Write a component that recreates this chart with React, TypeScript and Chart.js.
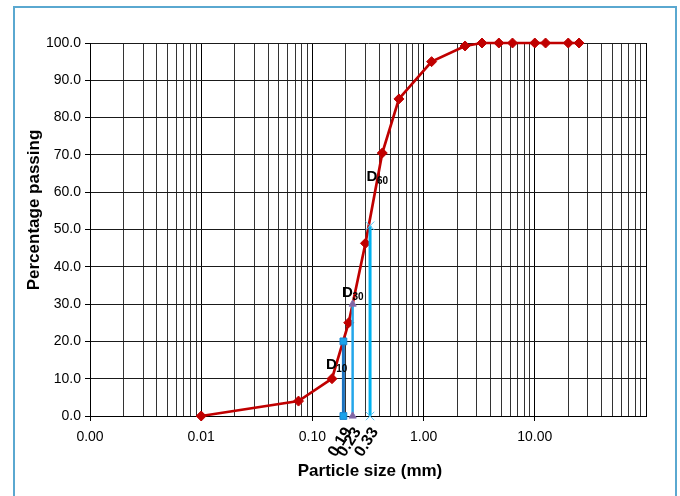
import React, { useEffect, useRef } from 'react';
import { Chart, registerables } from 'chart.js';

Chart.register(...registerables);

// ---- data ----
const sieveSizes = [0.01, 0.075, 0.15, 0.212, 0.3, 0.425, 0.6, 1.18, 2.36, 3.35, 4.75, 6.3, 10, 12.5, 20, 25];
const percentPassing = [0, 4, 10, 25, 46.3, 70.5, 85, 95, 99.2, 100, 100, 100, 100, 100, 100, 100];

const d10Size = 0.19;
const d10Line = [0, 20];
const d30Size = 0.23;
const d30Line = [0, 30];
const d60Size = 0.33;
const d60Line = [0, 51];

const dNames = ['10', '30', '60'];
const dSizeLabels = ['0.19', '0.23', '0.33'];

const xMajorTicks = [0.001, 0.01, 0.1, 1, 10, 100];
const xTickLabels = ['0.00', '0.01', '0.10', '1.00', '10.00', ''];
const xMinorMultipliers = [2, 3, 4, 5, 6, 7, 8, 9];
const yMin = 0;
const yMax = 100;
const yStep = 10;

const FONT = '"Liberation Sans", Arial, sans-serif';

function majorIndex(v: number): number {
  return xMajorTicks.findIndex((m) => Math.abs(m - v) / m < 1e-6);
}

export default function App() {
  const canvasRef = useRef<HTMLCanvasElement | null>(null);

  useEffect(() => {
    const canvas = canvasRef.current;
    if (!canvas) return;

    const allTicks: number[] = [];
    for (let i = 0; i < xMajorTicks.length; i++) {
      allTicks.push(xMajorTicks[i]);
      if (i < xMajorTicks.length - 1) {
        for (const m of xMinorMultipliers) allTicks.push(+(m * xMajorTicks[i]).toPrecision(6));
      }
    }

    const annotate = {
      id: 'annotate',
      afterDraw(chart: any) {
        const ctx = chart.ctx;
        const xs = chart.scales.x;
        const ys = chart.scales.y;
        const area = chart.chartArea;
        ctx.save();
        ctx.fillStyle = '#000';

        // axis titles
        ctx.font = `bold 17px ${FONT}`;
        ctx.textAlign = 'center';
        ctx.textBaseline = 'alphabetic';
        ctx.fillText('Particle size (mm)', (area.left + area.right) / 2 + 2, 476);
        ctx.save();
        ctx.translate(39, 210);
        ctx.rotate(-Math.PI / 2);
        ctx.fillText('Percentage passing', 0, 0);
        ctx.restore();

        // rotated D-size labels under the axis
        const sizes = [d10Size, d30Size, d60Size];
        ctx.font = `bold 16px ${FONT}`;
        ctx.textAlign = 'right';
        ctx.textBaseline = 'middle';
        sizes.forEach((s, i) => {
          const px = xs.getPixelForValue(s);
          ctx.save();
          ctx.translate(px + 5, area.bottom + 13);
          ctx.rotate((-58 * Math.PI) / 180);
          ctx.fillText(dSizeLabels[i], 0, 0);
          ctx.restore();
        });

        // D labels
        const anchors = [
          { s: d10Size, v: 12.5, dx: -17.5 },
          { s: d30Size, v: 32, dx: -10.5 },
          { s: d60Size, v: 63, dx: -3.5 },
        ];
        ctx.textAlign = 'left';
        ctx.textBaseline = 'alphabetic';
        anchors.forEach((a, i) => {
          const x = xs.getPixelForValue(a.s) + a.dx;
          const y = ys.getPixelForValue(a.v);
          ctx.font = `bold 15px ${FONT}`;
          ctx.fillText('D', x, y);
          const w = ctx.measureText('D').width;
          ctx.font = `bold 10px ${FONT}`;
          ctx.fillText(dNames[i], x + w - 0.5, y + 3);
        });
        ctx.restore();
      },
    };

    const chart = new Chart(canvas, {
      type: 'line',
      data: {
        datasets: [
          {
            label: 'D10',
            data: d10Line.map((v) => ({ x: d10Size, y: v })),
            borderColor: '#1C72BE',
            borderWidth: 3,
            pointStyle: 'rect',
            pointRadius: 4.8,
            pointBackgroundColor: '#19A2EA',
            pointBorderColor: '#1A86D0',
            pointBorderWidth: 1,
            clip: false,
          },
          {
            label: 'D30',
            data: d30Line.map((v) => ({ x: d30Size, y: v })),
            borderColor: '#24A6EA',
            borderWidth: 2.5,
            pointStyle: 'triangle',
            pointRadius: 4.2,
            pointBackgroundColor: '#8064A2',
            pointBorderColor: '#8A70B0',
            pointBorderWidth: 1,
            clip: false,
          },
          {
            label: 'D60',
            data: d60Line.map((v) => ({ x: d60Size, y: v })),
            borderColor: '#00B2F0',
            borderWidth: 3,
            pointStyle: 'crossRot',
            pointRadius: 6,
            pointBorderColor: '#55C4F2',
            pointBorderWidth: 1,
            clip: false,
          },
          {
            label: 'Grading',
            data: sieveSizes.map((s, i) => ({ x: s, y: percentPassing[i] })),
            borderColor: '#C00000',
            borderWidth: 2.7,
            pointStyle: 'rectRot',
            pointRadius: 5,
            pointBackgroundColor: '#C00000',
            pointBorderColor: '#C00000',
            pointBorderWidth: 1,
            tension: 0,
            clip: false,
          },
        ],
      },
      options: {
        responsive: false,
        animation: false,
        events: [],
        layout: { padding: { left: 0, top: 43, right: 34, bottom: 0 } },
        plugins: {
          legend: { display: false },
          tooltip: { enabled: false },
          title: { display: false },
        },
        scales: {
          x: {
            type: 'logarithmic',
            min: 0.001,
            max: 100,
            afterBuildTicks: (scale: any) => {
              scale.ticks = allTicks.map((v) => ({ value: v, major: majorIndex(v) >= 0 }));
            },
            afterFit: (scale: any) => {
              scale.height = 80;
            },
            ticks: {
              autoSkip: false,
              maxRotation: 0,
              minRotation: 0,
              padding: 8,
              color: '#000',
              font: { family: FONT, size: 14 },
              major: { enabled: false },
              callback: (v: any) => {
                const i = majorIndex(Number(v));
                return i >= 0 ? xTickLabels[i] : '';
              },
            },
            grid: {
              color: (c: any) => (c.tick && majorIndex(c.tick.value) >= 0 ? '#000' : '#333'),
              lineWidth: 1,
              tickLength: 5,
              tickColor: (c: any) => {
                if (!c.tick) return 'rgba(0,0,0,0)';
                const i = majorIndex(c.tick.value);
                return i >= 0 && xTickLabels[i] !== '' ? '#000' : 'rgba(0,0,0,0)';
              },
            },
            border: { display: true, color: '#000', width: 1 },
          },
          y: {
            type: 'linear',
            min: yMin,
            max: yMax,
            afterFit: (scale: any) => {
              scale.width = 90;
            },
            ticks: {
              stepSize: yStep,
              padding: 4,
              color: '#000',
              font: { family: FONT, size: 14 },
              callback: (v: any) => Number(v).toFixed(1),
            },
            grid: {
              color: '#1a1a1a',
              lineWidth: 1,
              tickLength: 5,
              tickColor: '#000',
            },
            border: { display: true, color: '#000', width: 1 },
          },
        },
      },
      plugins: [annotate],
    } as any);

    return () => chart.destroy();
  }, []);

  return (
    <div
      style={{
        position: 'absolute',
        left: 0,
        top: 0,
        width: 680,
        height: 496,
        overflow: 'hidden',
        background: '#fff',
      }}
    >
      <canvas ref={canvasRef} width={680} height={496} style={{ display: 'block' }} />
      <div
        style={{
          position: 'absolute',
          left: 13,
          top: 6,
          width: 664,
          height: 520,
          border: '2px solid #5AA8D0',
          boxSizing: 'border-box',
          pointerEvents: 'none',
        }}
      />
    </div>
  );
}
